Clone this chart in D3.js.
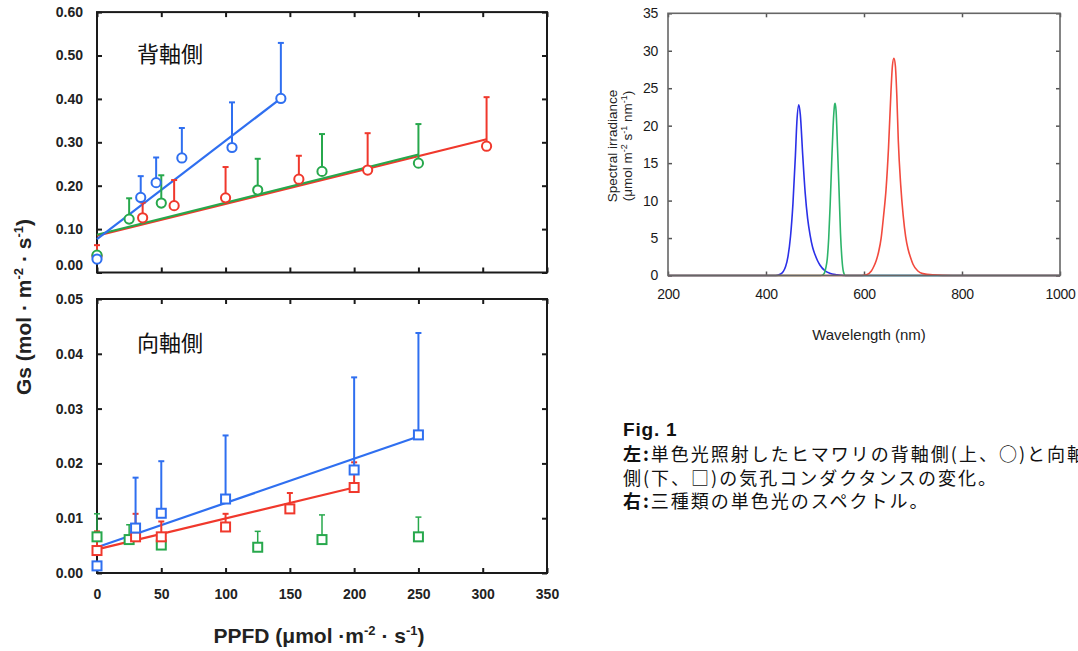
<!DOCTYPE html>
<html><head><meta charset="utf-8">
<script src="https://cdn.jsdelivr.net/npm/d3@7"></script>
<style>body{margin:0;background:#fff;overflow:hidden} svg{display:block}</style>
</head><body><svg id="c" width="1078" height="651"></svg>
<script>
// ---------- data ----------
const xTicks = [0, 50, 100, 150, 200, 250, 300, 350];
const topYTicks = [0, 0.1, 0.2, 0.3, 0.4, 0.5, 0.6];
const botYTicks = [0, 0.01, 0.02, 0.03, 0.04, 0.05];
const specXTicks = [200, 400, 600, 800, 1000];
const specYTicks = [0, 5, 10, 15, 20, 25, 30, 35];

// abaxial (top): [PPFD, Gs, upper error]
const abaxBlue  = [[0,0.031,null],[34,0.173,0.222],[46,0.207,0.265],[66,0.264,0.333],[105,0.288,0.392],[143,0.401,0.529]];
const abaxGreen = [[0,0.040,null],[25,0.123,0.171],[50,0.160,0.224],[125,0.190,0.262],[175,0.233,0.319],[250,0.252,0.342]];
const abaxRed   = [[0,0.038,0.063],[35.5,0.126,0.161],[60,0.154,0.213],[100,0.172,0.243],[157,0.215,0.269],[210.5,0.236,0.321],[303,0.291,0.404]];
const abaxBlueFit  = [[0,0.077],[143,0.401]];
const abaxGreenFit = [[0,0.087],[250,0.272]];
const abaxRedFit   = [[0,0.085],[303,0.307]];

// adaxial (bottom)
const adaxBlue  = [[0,0.0013,null],[30,0.0082,0.0174],[50,0.0109,0.0204],[100,0.0135,0.0251],[200,0.0188,0.0357],[250,0.0252,0.0438]];
const adaxRed   = [[0,0.0041,0.0076],[30,0.0066,0.0108],[50,0.0066,0.0094],[100,0.0084,0.0108],[150,0.0117,0.0146],[200,0.0156,0.0202]];
const adaxGreen = [[0,0.0066,0.0108],[25,0.0061,0.0088],[50,0.0051,null],[125,0.0047,0.0076],[175,0.0061,0.0106],[250,0.0066,0.0102]];
const adaxBlueFit = [[0,0.0047],[250,0.0249]];
const adaxRedFit  = [[0,0.0043],[200,0.0156]];

// spectra: [wavelength nm, spectral irradiance]
const specBlue = [[200,0],[420,0],[430,0.2],[440,1.2],[445,2.6],[450,5.2],[455,9.6],[460,16],[463,20.5],[467,22.8],[470,21.5],[475,16],[480,11],[485,7.6],[490,5.4],[495,3.8],[500,2.8],[505,2.0],[510,1.4],[520,0.65],[530,0.3],[545,0.1],[560,0],[1000,0]];
const specGreen = [[200,0],[512,0],[518,0.2],[522,1.0],[525,2.2],[528,5],[531,9.5],[534,15],[537,20],[540,22.8],[541,23],[543,22],[546,17],[549,11.5],[552,5.7],[555,2.2],[558,0.5],[562,0],[1000,0]];
const specRed = [[200,0],[595,0],[605,0.1],[615,0.6],[620,1.2],[625,2.0],[630,3.2],[635,5],[640,8],[645,11.5],[650,17],[655,24.5],[658,28],[661,29],[664,28],[667,24],[670,18],[675,12],[680,8],[685,5.2],[690,3.5],[695,2.4],[700,1.5],[710,0.6],[720,0.25],[740,0.08],[780,0],[1000,0]];

// ---------- drawing ----------
const svg = d3.select("#c");
const C = {blue:"#2f6ff0", red:"#f0382c", green:"#27a84c"};
const SC = {blue:"#2b30e8", red:"#f24a3e", green:"#2db46a"};
const LAB = "'Liberation Sans', Arial, sans-serif";
const CJK = "'Noto Sans CJK JP', sans-serif";

const xL = d3.scaleLinear().domain([0, 350]).range([97, 547]);
const yTop = d3.scaleLinear().domain([0, 0.6]).range([272.5, 12.1]);
const yBot = d3.scaleLinear().domain([0, 0.05]).range([573, 299]);

function frameAxes(y, yTicks, fmt, showX) {
  const g = svg.append("g");
  const [y0, y1] = y.range();
  const [x0, x1] = xL.range();
  const la = g.append("g").attr("transform", `translate(${x0},0)`)
    .call(d3.axisLeft(y).tickValues(yTicks).tickFormat(fmt).tickSizeInner(-5).tickSizeOuter(0).tickPadding(14));
  g.append("g").attr("transform", `translate(${x1},0)`)
    .call(d3.axisRight(y).tickValues(yTicks).tickFormat("").tickSizeInner(-5).tickSizeOuter(0));
  g.append("g").attr("transform", `translate(0,${y1})`)
    .call(d3.axisTop(xL).tickValues(xTicks).tickFormat("").tickSizeInner(-5).tickSizeOuter(0));
  g.append("g").attr("transform", `translate(0,${y0})`)
    .call(d3.axisBottom(xL).tickValues(xTicks).tickFormat(showX ? d3.format("d") : "").tickSizeInner(-5).tickSizeOuter(0).tickPadding(16));
  g.selectAll(".domain").remove();
  g.selectAll(".tick line").attr("stroke", "#1a1a1a").attr("stroke-width", 2);
  g.selectAll(".tick text").attr("font-family", LAB).attr("font-weight", "bold")
    .attr("font-size", 14).attr("fill", "#222");
  g.append("rect").attr("x", x0).attr("y", y1).attr("width", x1 - x0).attr("height", y0 - y1)
    .attr("fill", "none").attr("stroke", "#1a1a1a").attr("stroke-width", 2);
  return la;
}

function drawFit(y, pts, color) {
  svg.append("path").datum(pts)
    .attr("d", d3.line().x(d => xL(d[0])).y(d => y(d[1])))
    .attr("fill", "none").attr("stroke", color).attr("stroke-width", 2.2);
}

function drawErr(y, data, color, sw) {
  const g = svg.append("g").attr("stroke", color).attr("stroke-width", sw);
  data.filter(d => d[2] != null).forEach(d => {
    g.append("line").attr("x1", xL(d[0])).attr("x2", xL(d[0])).attr("y1", y(d[1])).attr("y2", y(d[2]));
    g.append("line").attr("x1", xL(d[0]) - 3).attr("x2", xL(d[0]) + 3).attr("y1", y(d[2])).attr("y2", y(d[2]));
  });
}

function drawCircles(y, data, color) {
  svg.append("g").selectAll("circle").data(data).join("circle")
    .attr("cx", d => xL(d[0])).attr("cy", d => y(d[1])).attr("r", 4.6)
    .attr("fill", "#fff").attr("stroke", color).attr("stroke-width", 2);
}
function drawSquares(y, data, color) {
  svg.append("g").selectAll("rect").data(data).join("rect")
    .attr("x", d => xL(d[0]) - 4.5).attr("y", d => y(d[1]) - 4.5).attr("width", 9).attr("height", 9)
    .attr("fill", "#fff").attr("stroke", color).attr("stroke-width", 2);
}

// top panel
const topLeft = frameAxes(yTop, topYTicks, d3.format(".2f"), false);
topLeft.selectAll(".tick text").filter(d => d === 0).attr("dy", "-0.18em");
drawFit(yTop, abaxRedFit, C.red);
drawFit(yTop, abaxGreenFit, C.green);
drawFit(yTop, abaxBlueFit, C.blue);
drawErr(yTop, abaxRed, C.red, 2);
drawErr(yTop, abaxGreen, C.green, 2);
drawErr(yTop, abaxBlue, C.blue, 2);
drawCircles(yTop, abaxRed, C.red);
drawCircles(yTop, abaxGreen, C.green);
drawCircles(yTop, abaxBlue, C.blue);

// bottom panel
frameAxes(yBot, botYTicks, d3.format(".2f"), true);
drawErr(yBot, adaxGreen, C.green, 1.5);
drawFit(yBot, adaxRedFit, C.red);
drawFit(yBot, adaxBlueFit, C.blue);
drawErr(yBot, adaxRed, C.red, 2);
drawErr(yBot, adaxBlue, C.blue, 2);
drawSquares(yBot, adaxGreen, C.green);
drawSquares(yBot, adaxRed, C.red);
drawSquares(yBot, adaxBlue, C.blue);

// panel labels
svg.append("text").attr("x", 137).attr("y", 62).attr("font-family", CJK).attr("font-size", 22).attr("fill", "#111").text("背軸側");
svg.append("text").attr("x", 137).attr("y", 351).attr("font-family", CJK).attr("font-size", 22).attr("fill", "#111").text("向軸側");

// axis titles
const yt = svg.append("text").attr("transform", "translate(31,307) rotate(-90)").attr("text-anchor", "middle")
  .attr("font-family", LAB).attr("font-weight", "bold").attr("font-size", 21).attr("fill", "#222");
yt.append("tspan").text("Gs (mol · m");
yt.append("tspan").attr("dy", -8).attr("font-size", 13).text("-2");
yt.append("tspan").attr("dy", 8).text(" · s");
yt.append("tspan").attr("dy", -8).attr("font-size", 13).text("-1");
yt.append("tspan").attr("dy", 8).text(")");

const xt = svg.append("text").attr("x", 319).attr("y", 643).attr("text-anchor", "middle")
  .attr("font-family", LAB).attr("font-weight", "bold").attr("font-size", 21).attr("fill", "#222");
xt.append("tspan").text("PPFD (μmol ·m");
xt.append("tspan").attr("dy", -8).attr("font-size", 13).text("-2");
xt.append("tspan").attr("dy", 8).text(" · s");
xt.append("tspan").attr("dy", -8).attr("font-size", 13).text("-1");
xt.append("tspan").attr("dy", 8).text(")");

// spectrum panel
const xS = d3.scaleLinear().domain([200, 1000]).range([668, 1060]);
const yS = d3.scaleLinear().domain([0, 35]).range([275.5, 13.3]);
const sg = svg.append("g");
sg.append("g").attr("transform", "translate(668,0)")
  .call(d3.axisLeft(yS).tickValues(specYTicks).tickFormat(d3.format("d")).tickSizeInner(-4).tickSizeOuter(0).tickPadding(10));
sg.append("g").attr("transform", "translate(1060,0)")
  .call(d3.axisRight(yS).tickValues(specYTicks).tickFormat("").tickSizeInner(-4).tickSizeOuter(0));
sg.append("g").attr("transform", "translate(0,275.5)")
  .call(d3.axisBottom(xS).tickValues(specXTicks).tickFormat(d3.format("d")).tickSizeInner(-4).tickSizeOuter(0).tickPadding(14));
sg.append("g").attr("transform", "translate(0,13.3)")
  .call(d3.axisTop(xS).tickValues(specXTicks).tickFormat("").tickSizeInner(-4).tickSizeOuter(0));
sg.selectAll(".domain").remove();
sg.selectAll(".tick line").attr("stroke", "#555").attr("stroke-width", 1.5);
sg.selectAll(".tick text").attr("font-family", LAB).attr("font-size", 14).attr("fill", "#1a1a1a").attr("letter-spacing", -0.3);

const specLine = d3.line().x(d => xS(d[0])).y(d => yS(d[1])).curve(d3.curveMonotoneX);
[[specBlue, SC.blue], [specGreen, SC.green], [specRed, SC.red]].forEach(([d, c]) => {
  svg.append("path").datum(d).attr("d", specLine).attr("fill", "none").attr("stroke", c).attr("stroke-width", 1.6);
});
svg.append("rect").attr("x", 668).attr("y", 13.3).attr("width", 392).attr("height", 262.2)
  .attr("fill", "none").attr("stroke", "#666").attr("stroke-width", 1.6);

svg.append("text").attr("transform", "translate(617,146) rotate(-90)").attr("text-anchor", "middle")
  .attr("font-family", LAB).attr("font-size", 13.5).attr("fill", "#222").text("Spectral irradiance");
const st2 = svg.append("text").attr("transform", "translate(632,146) rotate(-90)").attr("text-anchor", "middle")
  .attr("font-family", LAB).attr("font-size", 13.5).attr("fill", "#222");
st2.append("tspan").text("(μmol  m");
st2.append("tspan").attr("dy", -5).attr("font-size", 9).text("-2");
st2.append("tspan").attr("dy", 5).text("  s");
st2.append("tspan").attr("dy", -5).attr("font-size", 9).text("-1");
st2.append("tspan").attr("dy", 5).text("  nm");
st2.append("tspan").attr("dy", -5).attr("font-size", 9).text("-1");
st2.append("tspan").attr("dy", 5).text(")");

svg.append("text").attr("x", 869).attr("y", 340).attr("text-anchor", "middle")
  .attr("font-family", LAB).attr("font-size", 15).attr("fill", "#222").text("Wavelength (nm)");

// caption
svg.append("text").attr("x", 623).attr("y", 436).attr("font-family", LAB).attr("font-weight", "bold")
  .attr("font-size", 19).attr("letter-spacing", 0.8).attr("fill", "#111").text("Fig. 1");
const capLines = [
  ["左", ":単色光照射したヒマワリの背軸側(上、○)と向軸", 461],
  ["", "側(下、□)の気孔コンダクタンスの変化。", 484.5],
  ["右", ":三種類の単色光のスペクトル。", 508]
];
capLines.forEach(([b, t, yy]) => {
  const tx = svg.append("text").attr("x", 623).attr("y", yy).attr("font-family", CJK)
    .attr("font-size", 18).attr("letter-spacing", 2.0).attr("fill", "#111");
  if (b) {
    tx.append("tspan").attr("font-weight", "bold").text(b);
    tx.append("tspan").attr("font-weight", "bold").text(":");
    tx.append("tspan").text(t.slice(1));
  } else {
    tx.append("tspan").text(t);
  }
});
</script></body></html>
